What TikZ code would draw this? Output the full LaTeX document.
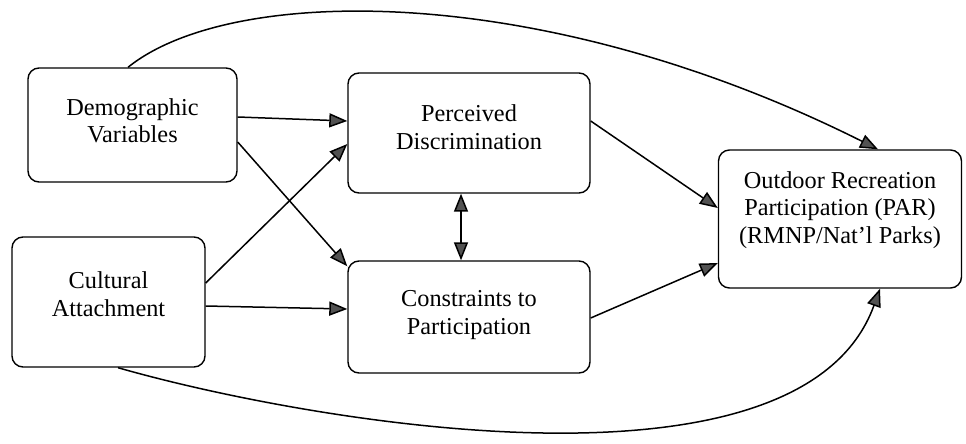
\documentclass[tikz,border=0pt]{standalone}
\usepackage{fontspec}
\setmainfont{Liberation Serif}
\usetikzlibrary{arrows.meta,calc}
\tikzset{
  box/.style={draw=black, line width=1.4pt, rounded corners=11pt, inner sep=0pt},
  txt/.style={align=center, font=\fontsize{24.3}{27.5}\selectfont, inner sep=0pt},
  con/.style={draw=black, line width=1.5pt, -{Triangle[length=18pt,width=14pt,fill=black!68]}},
  bicon/.style={draw=black, line width=1.5pt, {Triangle[length=18pt,width=14pt,fill=black!68]}-{Triangle[length=18pt,width=14pt,fill=black!68]}}
}
\begin{document}
\begin{tikzpicture}[x=1pt,y=-1pt]
\useasboundingbox (0,0) rectangle (966,444);
% boxes
\node[box, minimum width=209pt, minimum height=114pt] (demo) at (132.5,125) {};
\node[box, minimum width=193pt, minimum height=130pt] (cult) at (108.5,302) {};
\node[box, minimum width=242pt, minimum height=120pt] (perc) at (469,133) {};
\node[box, minimum width=242pt, minimum height=112pt] (cons) at (469,317) {};
\node[box, minimum width=243pt, minimum height=138pt] (out) at (840,219) {};
% texts
\node[txt] (demoT) at (132.5,121) {Demographic\\Variables};
\node[txt] (cultT) at (108.5,294) {Cultural\\Attachment};
\node[txt] (percT) at (469,127) {Perceived\\Discrimination};
\node[txt] (consT) at (469,315) {Constraints to\\Participation};
\node[txt] (outT) at (840,210) {Outdoor Recreation\\Participation (PAR)\\(RMNP/Nat'l Parks)};
% straight connectors
\draw[con] ($(demo.east)+(0,-8)$) -- ($(perc.west)+(0,-12)$);
\draw[con] ($(demo.east)+(0,17)$) -- ($(cons.north west)+(0,6)$);
\draw[con] ($(cult.east)+(0,-19)$) -- ($(perc.west)+(0,11)$);
\draw[con] ($(cult.east)+(0,4)$) -- ($(cons.west)+(0,-8)$);
\draw[bicon] ($(perc.south)+(-8,0)$) -- ($(cons.north)+(-8,0)$);
\draw[con] ($(perc.east)+(0,-12)$) -- ($(out.west)+(0,-11)$);
\draw[con] ($(cons.east)+(0,1)$) -- ($(out.west)+(0,44)$);
% curved connectors
\draw[con] ($(demo.north)+(-4.5,0)$) .. controls (230,-15) and (540,-20) .. ($(out.north)+(38,0)$);
\draw[con] ($(cult.south)+(9.5,0)$) .. controls (300,420) and (800,510) .. ($(out.south)+(40,0)$);
\end{tikzpicture}
\end{document}
